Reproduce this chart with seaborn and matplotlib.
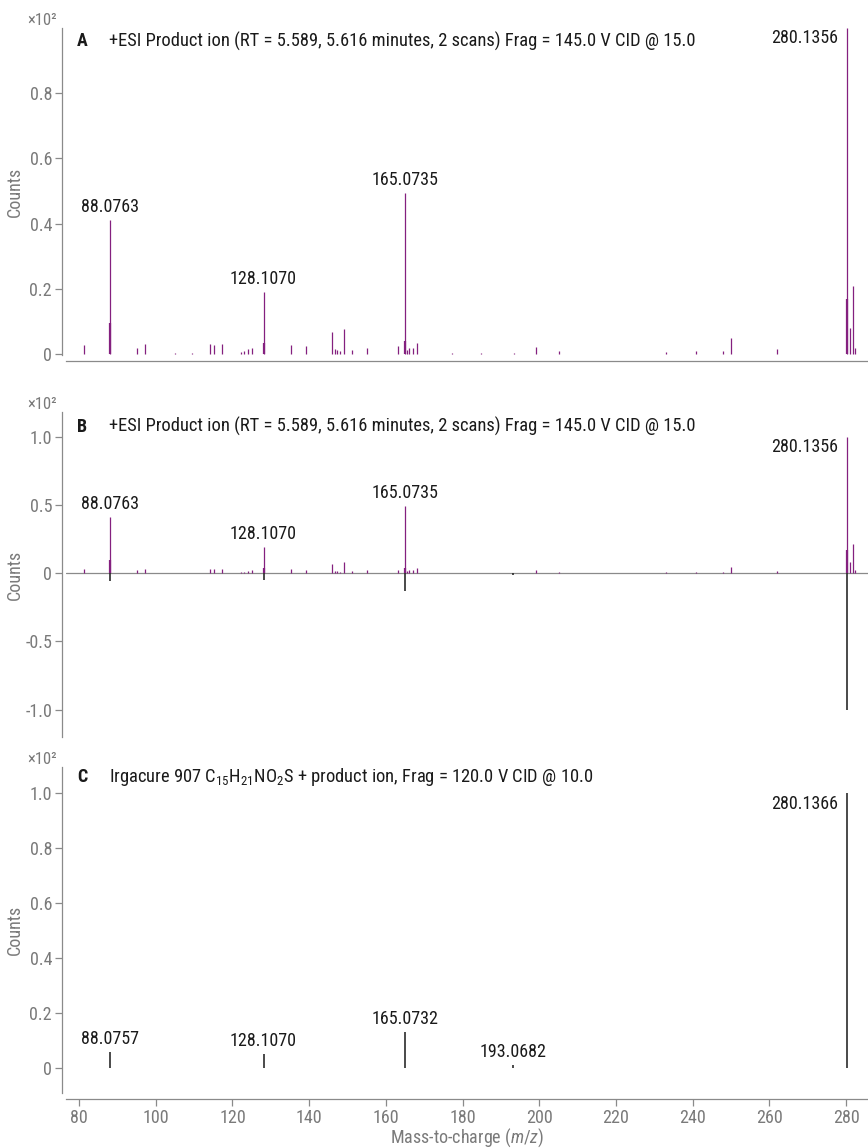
import numpy as np
import pandas as pd
import matplotlib
matplotlib.use("Agg")
import matplotlib.pyplot as plt
import matplotlib.font_manager as fm
import seaborn as sns

# ---------------- data (counts in units of x10^2) ----------------
scan_mz = [81.2, 88.0763, 95.2, 97.2, 104.9, 109.5, 114.1, 115.1, 117.2, 122.1,
           123.1, 124.1, 125.2, 128.1070, 135.2, 139.2, 146.05, 146.7, 147.3, 148.0,
           149.0, 151.1, 155.1, 163.1, 165.0735, 165.5, 166.1, 167.0, 168.1, 177.2,
           184.9, 193.3, 199.2, 205.2, 233.1, 240.8, 248.0, 250.0, 261.9, 280.1356,
           281.0, 281.9, 282.3]
scan_counts = [0.028, 0.41, 0.02, 0.03, 0.004, 0.004, 0.03, 0.027, 0.03, 0.006,
               0.01, 0.014, 0.02, 0.19, 0.028, 0.025, 0.068, 0.015, 0.012, 0.01,
               0.078, 0.012, 0.02, 0.025, 0.494, 0.012, 0.02, 0.02, 0.035, 0.004,
               0.004, 0.004, 0.022, 0.008, 0.006, 0.008, 0.008, 0.048, 0.015, 1.0,
               0.079, 0.21, 0.02]
core_mz = [88.0763, 128.1070, 165.0735, 280.1356]
core_counts = [0.095, 0.035, 0.04, 0.17]

lib_mz = [88.0757, 128.1070, 165.0732, 193.0682, 280.1366]
lib_counts = [0.058, 0.051, 0.13, 0.01, 1.0]

scan_label_mz = [88.0763, 128.1070, 165.0735]
scan_label_txt = ["88.0763", "128.1070", "165.0735"]
scan_base_txt = "280.1356"
lib_label_mz = [88.0757, 128.1070, 165.0732, 193.0682]
lib_label_txt = ["88.0757", "128.1070", "165.0732", "193.0682"]
lib_base_txt = "280.1366"

x_ticks = [80, 100, 120, 140, 160, 180, 200, 220, 240, 260, 280]
yticks_A = [0, 0.2, 0.4, 0.6, 0.8]
ytlab_A = ["0", "0.2", "0.4", "0.6", "0.8"]
yticks_B = [-1.0, -0.5, 0, 0.5, 1.0]
ytlab_B = ["-1.0", "-0.5", "0", "0.5", "1.0"]
yticks_C = [0, 0.2, 0.4, 0.6, 0.8, 1.0]
ytlab_C = ["0", "0.2", "0.4", "0.6", "0.8", "1.0"]

title_AB = "+ESI Product ion (RT = 5.589, 5.616 minutes, 2 scans) Frag = 145.0 V CID @ 15.0"
title_C = "Irgacure 907 C$_{15}$H$_{21}$NO$_{2}$S + product ion, Frag = 120.0 V CID @ 10.0"

# ---------------- style ----------------
sns.set_theme(style="ticks")
names = {f.name for f in fm.fontManager.ttflist}
FONT = "DejaVu Sans"
for cand in ["Roboto Condensed", "Liberation Sans Narrow", "Roboto"]:
    if cand in names:
        FONT = cand
        break
plt.rcParams["font.family"] = [FONT, "DejaVu Sans"]
plt.rcParams["axes.unicode_minus"] = False
plt.rcParams["mathtext.default"] = "regular"
plt.rcParams["mathtext.fontset"] = "custom"
plt.rcParams["mathtext.rm"] = FONT
plt.rcParams["mathtext.it"] = FONT + ":italic"

GRAY = "#8a8a8a"
TXTG = "#7a7a7a"
PURPLE = "#84207f"
DARK = "#2b2b2b"

W, H = 868, 1148
fig = plt.figure(figsize=(W / 100, H / 100), dpi=100)

def add_ax(top_px, bot_px):
    left = 66 / W
    return fig.add_axes([left, 1 - bot_px / H, 1 - left, (bot_px - top_px) / H])

axA = add_ax(28, 355)
axB = add_ax(412, 737)
axC = add_ax(767, 1093)

scan = pd.DataFrame({"mz": scan_mz, "counts": scan_counts})
core = pd.DataFrame({"mz": core_mz, "counts": core_counts})
lib = pd.DataFrame({"mz": lib_mz, "counts": lib_counts})

XLIM = (76.6, 285.7)

def style_axis(ax, ylim, yt, ytl):
    ax.set_xlim(*XLIM)
    ax.set_ylim(*ylim)
    ax.set_yticks(yt)
    ax.set_yticklabels(ytl)
    ax.set_xticks(x_ticks)
    ax.set_xticklabels([str(v) for v in x_ticks])
    ax.tick_params(axis="both", colors=GRAY, labelcolor=TXTG, labelsize=13,
                   length=5, width=0.9, pad=2)
    for s in ax.spines.values():
        s.set_color(GRAY)
        s.set_linewidth(0.9)
    ax.set_ylabel("Counts", color=TXTG, fontsize=13)
    ax.yaxis.set_label_coords(-0.052, 0.5)
    ax.patch.set_alpha(0)

def header(ax, letter, title, dy):
    ax.annotate(letter, xy=(0, 1), xycoords="axes fraction", xytext=(8, -dy),
                textcoords="offset points", ha="left", va="center",
                fontsize=13, fontweight="bold", color="#1a1a1a")
    ax.annotate(title, xy=(0, 1), xycoords="axes fraction", xytext=(31, -dy),
                textcoords="offset points", ha="left", va="center",
                fontsize=13.3, color="#1a1a1a")
    ax.annotate("×10²", xy=(0, 1), xycoords="axes fraction", xytext=(-6.5, 0),
                textcoords="offset points", ha="right", va="bottom",
                fontsize=12, color=TXTG)

def peak_labels(ax, xs, ys, txts):
    for x, y, t in zip(xs, ys, txts):
        ax.annotate(t, xy=(x, y), xytext=(0, 3), textcoords="offset points",
                    ha="center", va="bottom", fontsize=13, color="#1a1a1a")

def base_label(ax, x, y, t):
    ax.annotate(t, xy=(x, y), xytext=(-6, -1), textcoords="offset points",
                ha="right", va="top", fontsize=13, color="#1a1a1a")

# ---- Panel A ----
axA.vlines(scan["mz"], 0, scan["counts"], color=PURPLE, lw=0.9)
axA.vlines(core["mz"], 0, core["counts"], color=PURPLE, lw=1.6)
style_axis(axA, (-0.003, 1.0), yticks_A, ytlab_A)
axA.tick_params(axis="x", bottom=False, labelbottom=False)
sns.despine(ax=axA, offset={"left": 3, "bottom": 4.3})
header(axA, "A", title_AB, 9.4)
sc = dict(zip(scan_mz, scan_counts))
peak_labels(axA, scan_label_mz, [sc[m] for m in scan_label_mz], scan_label_txt)
base_label(axA, 280.1356, sc[280.1356], scan_base_txt)

# ---- Panel B (mirror) ----
axB.axhline(0, color=GRAY, lw=0.9, zorder=1)
axB.vlines(scan["mz"], 0, scan["counts"], color=PURPLE, lw=0.9, zorder=2)
axB.vlines(core["mz"], 0, core["counts"], color=PURPLE, lw=1.6, zorder=2)
axB.vlines(lib["mz"], 0, -lib["counts"], color=DARK, lw=1.2, zorder=2)
style_axis(axB, (-1.2, 1.18), yticks_B, ytlab_B)
axB.tick_params(axis="x", bottom=False, labelbottom=False)
sns.despine(ax=axB, bottom=True, offset={"left": 3})
header(axB, "B", title_AB, 10.6)
peak_labels(axB, scan_label_mz, [sc[m] for m in scan_label_mz], scan_label_txt)
base_label(axB, 280.1356, sc[280.1356], scan_base_txt)

# ---- Panel C ----
axC.vlines(lib["mz"], 0, lib["counts"], color=DARK, lw=1.2)
style_axis(axC, (-0.09, 1.095), yticks_C, ytlab_C)
sns.despine(ax=axC, offset={"left": 3, "bottom": 4.3})
header(axC, "C", title_C, 7)
lc = dict(zip(lib_mz, lib_counts))
peak_labels(axC, lib_label_mz, [lc[m] for m in lib_label_mz], lib_label_txt)
base_label(axC, 280.1366, lc[280.1366], lib_base_txt)
axC.set_xlabel("Mass-to-charge ($\\it{m/z}$)", color=TXTG, fontsize=13, labelpad=0)

fig.savefig("out.png", dpi=100)
